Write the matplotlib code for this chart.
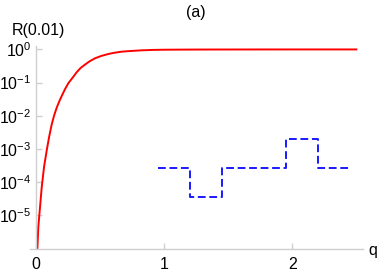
import numpy as np
import matplotlib
matplotlib.use("Agg")
import matplotlib.pyplot as plt
from matplotlib.ticker import FixedLocator, FuncFormatter

plt.rcParams['font.family'] = ['Liberation Sans', 'DejaVu Sans']
plt.rcParams['mathtext.fontset'] = 'custom'
plt.rcParams['mathtext.rm'] = 'Liberation Sans'
plt.rcParams['mathtext.it'] = 'Liberation Sans'

# red curve
q_red = [0.0125, 0.020, 0.0335, 0.047, 0.065, 0.086, 0.105, 0.125, 0.144, 0.164,
         0.183, 0.203, 0.228, 0.254, 0.29, 0.319, 0.35, 0.384, 0.42, 0.462,
         0.51, 0.566, 0.61, 0.67, 0.74, 0.826, 0.91, 0.995, 1.15, 1.3,
         1.7, 2.1, 2.5]
logR_red = [-6.0, -5.34, -4.74, -4.13, -3.53, -3.03, -2.62, -2.25, -1.98, -1.75,
            -1.57, -1.40, -1.20, -1.02, -0.84, -0.69, -0.56, -0.46, -0.36, -0.27,
            -0.20, -0.14, -0.105, -0.07, -0.05, -0.03, -0.018, -0.012, -0.008, -0.006,
            -0.004, -0.003, -0.003]

# blue dashed steps
step_edges = [0.95, 1.2, 1.45, 1.95, 2.2, 2.45]
step_levels = [2.6e-4, 3.5e-5, 2.6e-4, 2.0e-3, 2.6e-4]

yticks = [1e-5, 1e-4, 1e-3, 1e-2, 1e-1, 1e0]
xticks = [0, 1, 2]

fig = plt.figure(figsize=(3.82, 2.73), dpi=100)
ax = fig.add_axes([0.0785, 0.089, 0.871, 0.7425])

ax.plot(q_red, 10 ** np.array(logR_red), color='#ff0000', lw=1.4)
ax.step(step_edges, step_levels + [step_levels[-1]], where='post',
        color='#1a1aff', lw=1.4, dashes=(4, 1.9))

ax.set_yscale('log')
ax.set_xlim(-0.045, 2.55)
ax.set_ylim(1e-6, 1.26)

for s in ['top', 'right']:
    ax.spines[s].set_visible(False)
ax.spines['left'].set_position(('data', 0))
for s in ['left', 'bottom']:
    ax.spines[s].set_color('#cfcfcf')
    ax.spines[s].set_linewidth(1.0)

ax.yaxis.set_major_locator(FixedLocator(yticks))
ax.yaxis.set_minor_locator(FixedLocator([]))
ax.yaxis.set_major_formatter(FuncFormatter(
    lambda v, p: r'$10^{%d}$' % int(round(np.log10(v)))))
ax.xaxis.set_major_locator(FixedLocator(xticks))
ax.tick_params(axis='both', direction='in', color='#cfcfcf', length=4,
               width=1.0, labelsize=11.5, labelcolor='black')
ax.tick_params(axis='x', pad=6)
ax.tick_params(axis='y', pad=3)

fig.text(0.03, 0.89, 'R(0.01)', fontsize=11.5, ha='left', va='center')
fig.text(0.513, 0.955, '(a)', fontsize=11.5, ha='center', va='center')
fig.text(0.977, 0.082, 'q', fontsize=11.5, ha='center', va='center')

fig.savefig('out.png', dpi=100)
